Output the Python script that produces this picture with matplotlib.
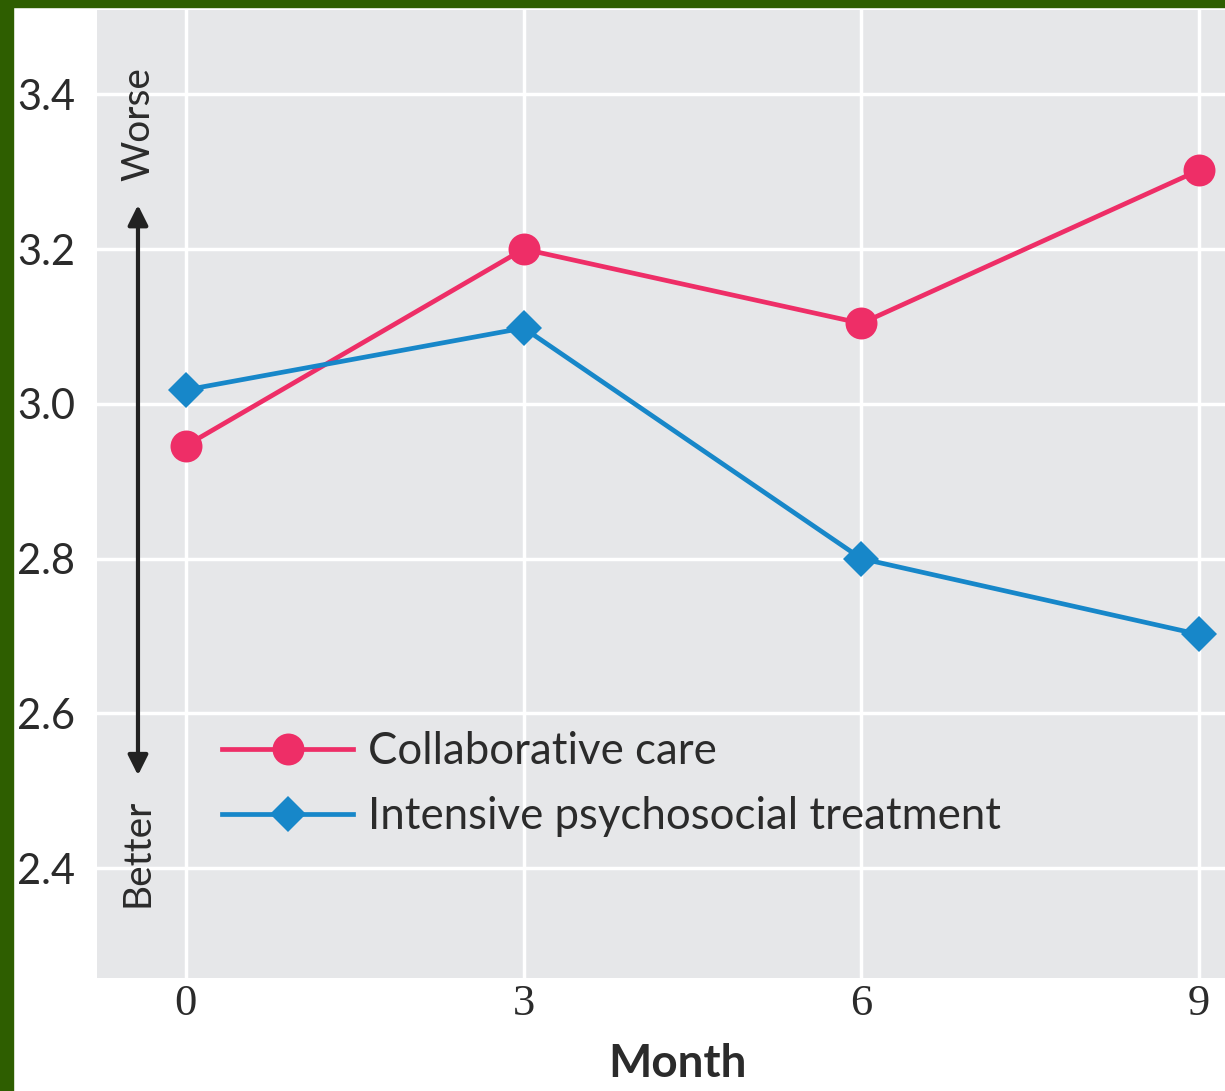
import matplotlib.pyplot as plt

# data
months = [0, 3, 6, 9]
collab = [2.946, 3.200, 3.104, 3.302]
intensive = [3.018, 3.098, 2.800, 2.702]
yticks = [2.4, 2.6, 2.8, 3.0, 3.2, 3.4]
xticks = [0, 3, 6, 9]

pink = '#EE2E67'
blue = '#1787C9'
text_col = '#2B2B2B'
font = 'Lato'

fig = plt.figure(figsize=(12.25, 10.91), dpi=100)
fig.patch.set_facecolor('white')

# green frame on the left and top
fig.add_artist(plt.Rectangle((0, 0), 13 / 1225, 1, transform=fig.transFigure, color='#2E5E00', zorder=0))
fig.add_artist(plt.Rectangle((0, 1 - 7 / 1091), 1, 7 / 1091, transform=fig.transFigure, color='#2E5E00', zorder=0))

ax = fig.add_axes([97 / 1225, (1091 - 978) / 1091, (1225 - 97) / 1225, (978 - 10) / 1091])
ax.set_facecolor('#E6E7E9')
for s in ax.spines.values():
    s.set_visible(False)

ax.set_xlim(-0.79, 9.23)
ax.set_ylim(2.258, 3.509)
ax.set_xticks(xticks)
ax.set_yticks(yticks)
ax.set_yticklabels(['%.1f' % v for v in yticks])
ax.grid(True, color='white', linewidth=2.5)
ax.set_axisbelow(True)
ax.tick_params(length=0)
ax.tick_params(axis='y', pad=16, labelsize=30, labelcolor=text_col)
ax.tick_params(axis='x', pad=4, labelsize=32, labelcolor=text_col)
for t in ax.get_yticklabels():
    t.set_fontfamily(font)
for t in ax.get_xticklabels():
    t.set_fontfamily('Liberation Serif')

ax.plot(months, collab, color=pink, linewidth=3.4, marker='o', markersize=23,
        markeredgewidth=0, label='Collaborative care', zorder=3)
ax.plot(months, intensive, color=blue, linewidth=3.4, marker='D', markersize=18.5,
        markeredgewidth=0, label='Intensive psychosocial treatment', zorder=3)

ax.set_xlabel('Month', fontsize=33, fontweight='bold', fontfamily=font, color=text_col)
ax.xaxis.set_label_coords((678 - 97) / 1128, -(1064 - 978) / 968)
ax.xaxis.label.set_va('center')

# better / worse arrow
ax.annotate('', xy=(-0.426, 3.257), xytext=(-0.426, 2.52),
            arrowprops=dict(arrowstyle='<|-|>', color='#222222', lw=3, mutation_scale=30,
                            shrinkA=0, shrinkB=0))
ax.text(-0.426, 3.361, 'Worse', rotation=90, ha='center', va='center', fontsize=28,
        fontfamily=font, color=text_col)
ax.text(-0.426, 2.42, 'Better', rotation=90, ha='center', va='center', fontsize=28,
        fontfamily=font, color=text_col)

leg = ax.legend(loc='center left', bbox_to_anchor=((222 - 97) / 1128, (978 - 784) / 968),
                frameon=False, borderpad=0, borderaxespad=0, handlelength=3.0,
                handletextpad=0.33, labelspacing=0.55, prop={'family': font, 'size': 31.5})
for t in leg.get_texts():
    t.set_color(text_col)

fig.savefig('out.png', dpi=100)
